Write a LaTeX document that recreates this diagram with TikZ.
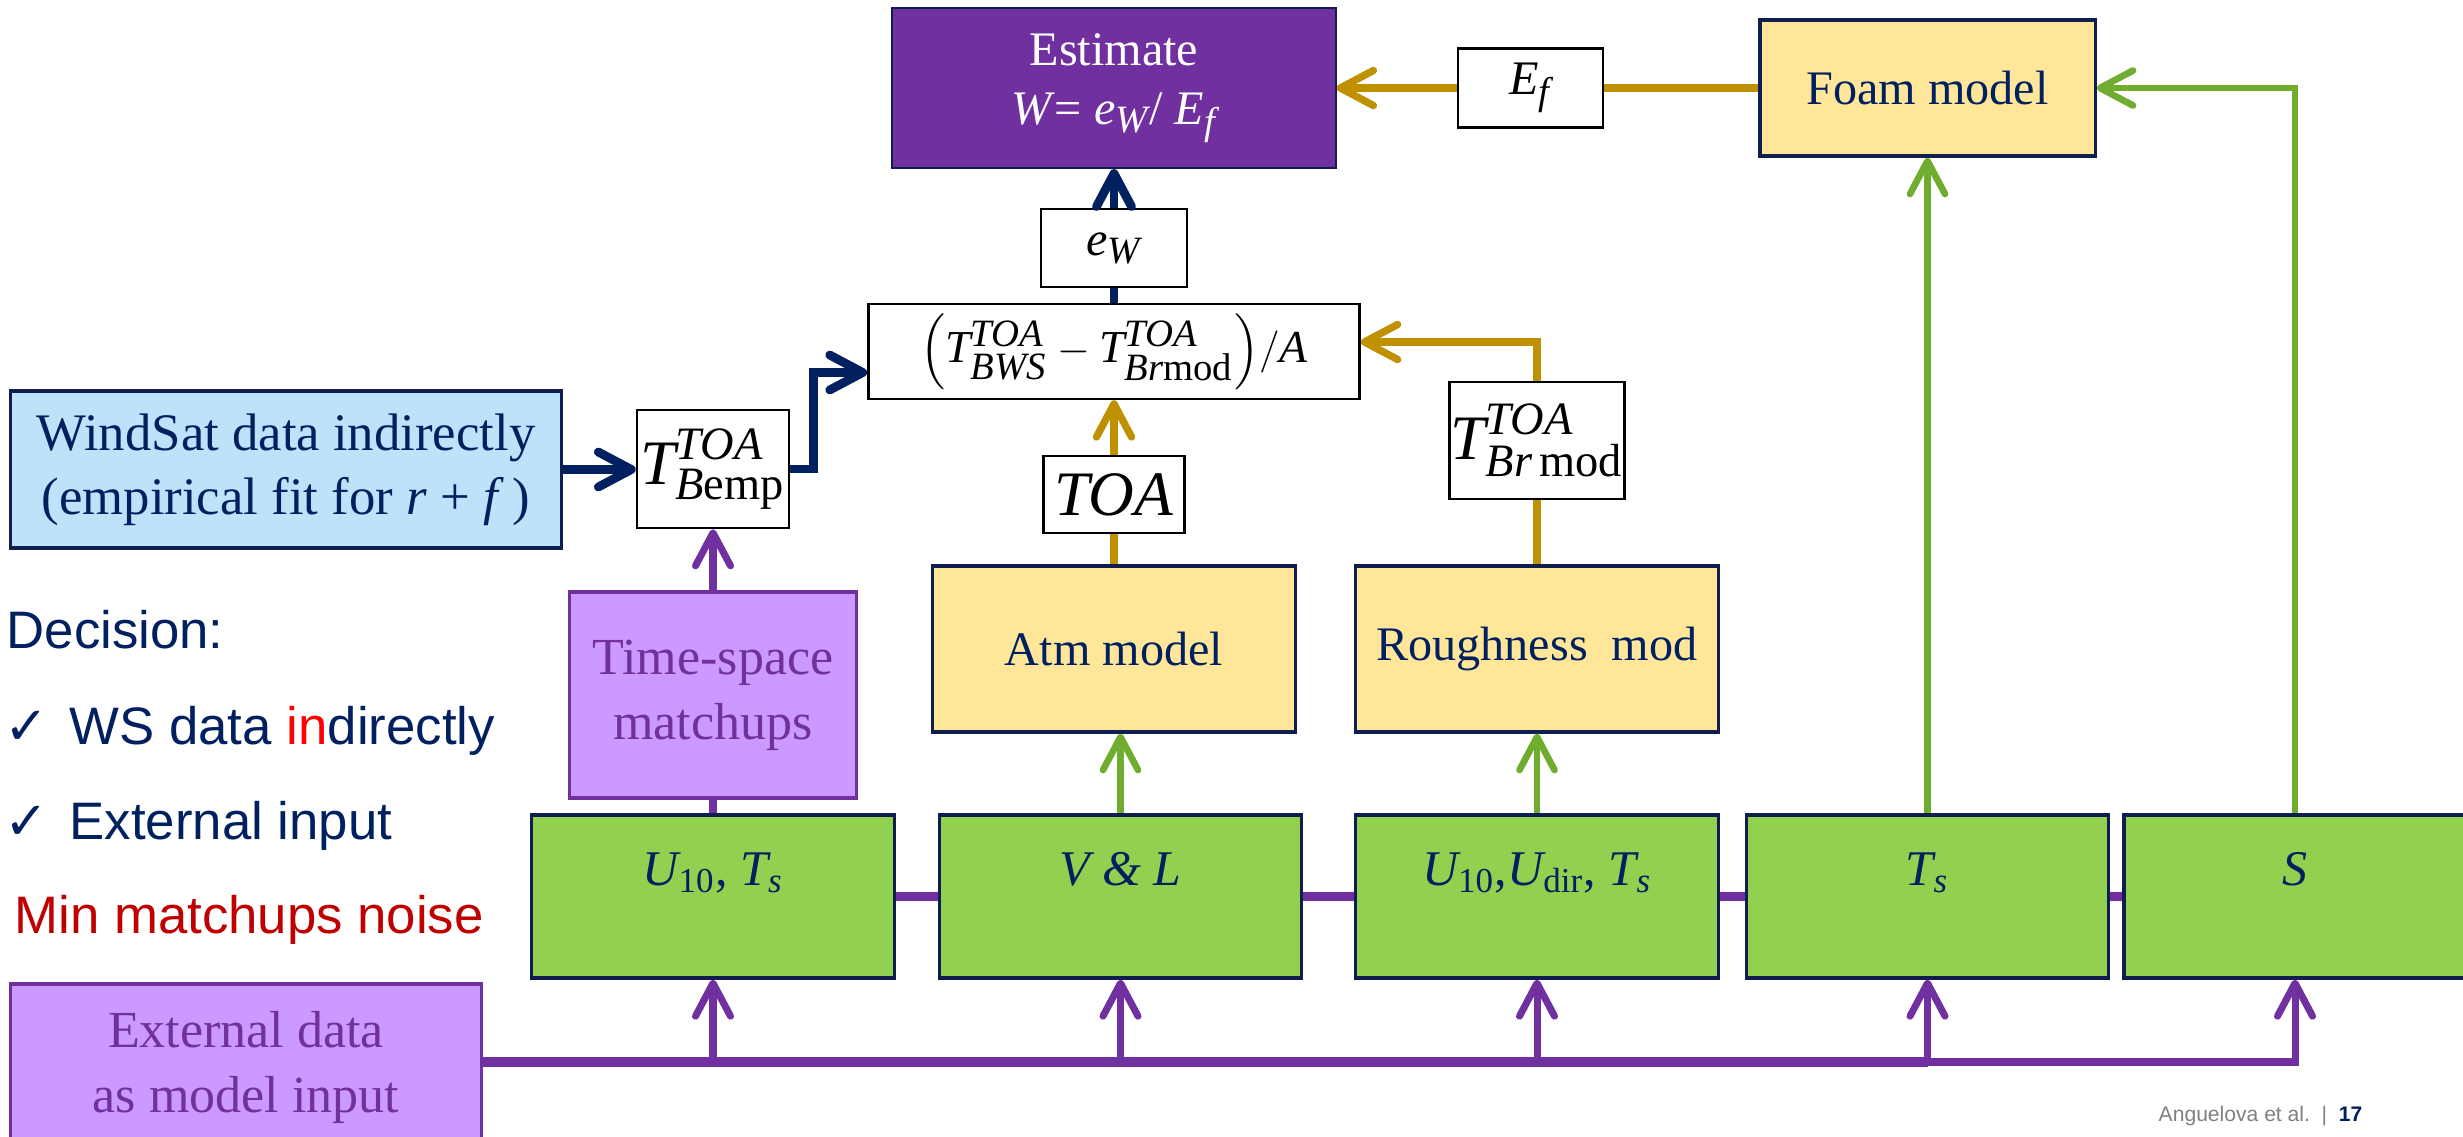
\documentclass[tikz,border=0pt]{standalone}
\usepackage{amsmath}
\usepackage{fontspec}
\setmainfont{Liberation Serif}
\newfontfamily\arialfont{Liberation Sans}
\newfontfamily\symfont{DejaVu Sans}
\usetikzlibrary{arrows.meta,calc}
% larger script sizes for the stacked TOA labels
\DeclareMathSizes{18}{18}{13.2}{10}
\DeclareMathSizes{13}{13}{11}{8.5}
\DeclareMathSizes{13.7}{13.7}{11}{8.5}

\definecolor{navy}{HTML}{002060}
\definecolor{estpurple}{HTML}{7030A0}
\definecolor{modelyellow}{HTML}{FFE699}
\definecolor{inputgreen}{HTML}{92D050}
\definecolor{lavender}{HTML}{CC99FF}
\definecolor{skyblue}{HTML}{BDE3FB}
\definecolor{goldline}{HTML}{BF9000}
\definecolor{greenline}{HTML}{70AD2F}
\definecolor{boxedge}{HTML}{0F1E4F}
\definecolor{darkred}{HTML}{C00000}
\definecolor{footgray}{HTML}{808080}

\tikzset{
  box/.style={rectangle, inner sep=0pt, align=center},
  ybox/.style={box, fill=modelyellow, draw=boxedge, line width=0.9pt, text=navy,
    font=\fontsize{13.7}{17}\selectfont, minimum width=3.62cm, minimum height=1.66cm},
  gbox/.style={box, fill=inputgreen, draw=boxedge, line width=0.9pt,
    minimum width=3.62cm, minimum height=1.63cm},
  wbox/.style={box, fill=white, draw=black, line width=0.7pt},
  lbox/.style={box, fill=lavender, draw=estpurple, line width=0.9pt, text=estpurple,
    font=\fontsize{14.8}{18.5}\selectfont},
  glabel/.style={text=navy, font=\fontsize{14.2}{17}\selectfont, anchor=base, inner sep=0pt},
  sidetext/.style={anchor=base west, inner sep=0pt, font=\arialfont\fontsize{15}{18}\selectfont, text=navy},
  checkmk/.style={sidetext, font=\symfont\fontsize{15}{18}\selectfont},
  arrowhd/.style={-{Straight Barb[length=3.3mm,width=3.5mm,round]}},
  navyln/.style={draw=navy, line width=2.5pt},
  goldln/.style={draw=goldline, line width=2.1pt},
  greenln/.style={draw=greenline, line width=1.9pt},
  purpln/.style={draw=estpurple, line width=2pt},
}

\begin{document}
\begin{tikzpicture}[x=0.01cm, y=-0.01cm]
\useasboundingbox (0,0) rectangle (2463,1136);
\clip (0,0) rectangle (2463,1136);
\fill[white] (0,0) rectangle (2463,1136);

% result and foam model
\node[box, fill=estpurple, draw=boxedge, line width=0.6pt, minimum width=4.43cm, minimum height=1.6cm,
  text=white, font=\fontsize{13.7}{17}\selectfont] (est) at (1114,88)
  {Estimate\\ \textit{W}= $\textit{e}_{\textit{W}}$/ $\textit{E}_{\textit{f}}$};
\node[wbox, minimum width=1.45cm, minimum height=0.79cm, font=\fontsize{13.7}{16}\selectfont] (Ef) at (1530.5,88)
  {$\textit{E}_{\textit{f}}$};
\node[ybox, minimum width=3.35cm, minimum height=1.36cm] (foam) at (1927.5,88) {Foam model};

% retrieval chain
\node[wbox, minimum width=1.46cm, minimum height=0.78cm, font=\fontsize{13.7}{16}\selectfont] (eW) at (1114,248)
  {$\textit{e}_{\textit{W}}$};
\node[wbox, minimum width=4.91cm, minimum height=0.95cm, font=\fontsize{13}{16}\selectfont] (form) at (1114,351.5)
  {$\left(\textit{T}^{\textit{TOA}}_{\textit{BWS}} - \textit{T}^{\textit{TOA}}_{\textit{Br}\textup{mod}}\right)\!/\textit{A}$};
\node[wbox, minimum width=1.41cm, minimum height=0.77cm, font=\fontsize{18}{21}\selectfont] (toa) at (1114,494.5)
  {\textit{TOA}};
\node[wbox, minimum width=1.75cm, minimum height=1.17cm, font=\fontsize{18}{21}\selectfont] (tbr) at (1537,440.5)
  {$\textit{T}^{\textit{TOA}}_{\textit{Br}\,\textup{mod}}$};
\node[ybox] (atm) at (1114,649) {Atm model};
\node[ybox] (rough) at (1537,649) {Roughness\ \ mod};

% WindSat branch
\node[box, fill=skyblue, draw=boxedge, line width=0.9pt, minimum width=5.5cm, minimum height=1.57cm,
  text=navy, font=\fontsize{15}{18.2}\selectfont] (wind) at (286,469.5)
  {WindSat data indirectly\\(empirical fit for \textit{r} + \textit{f}\,)};
\node[wbox, minimum width=1.52cm, minimum height=1.18cm, font=\fontsize{18}{21}\selectfont] (temp) at (713,469)
  {$\textit{T}^{\textit{TOA}}_{\textit{B}\textup{emp}}$};
\node[lbox, minimum width=2.87cm, minimum height=2.06cm] (tsm) at (713,695) {Time-space\\matchups};

% input parameters
\node[gbox] (g1) at (713,896.5) {};
\node[gbox] (g2) at (1120.5,896.5) {};
\node[gbox] (g3) at (1537,896.5) {};
\node[gbox] (g4) at (1927.5,896.5) {};
\node[gbox] (g5) at (2305,896.5) {};
\node[glabel] (g1t) at ($(g1.north)+(0,72)$) {$\textit{U}_{\textup{10}}$, $\textit{T}_{\textit{s}}$};
\node[glabel] (g2t) at ($(g2.north)+(0,72)$) {\textit{V \& L}};
\node[glabel] (g3t) at ($(g3.north)+(0,72)$) {$\textit{U}_{\textup{10}}$,$\textit{U}_{\textup{dir}}$, $\textit{T}_{\textit{s}}$};
\node[glabel] (g4t) at ($(g4.north)+(0,72)$) {$\textit{T}_{\textit{s}}$};
\node[glabel] (g5t) at ($(g5.north)+(-10,72)$) {\textit{S}};

\node[lbox, minimum width=4.7cm, minimum height=1.66cm] (ext) at (246,1067) {External data\\as model input};

% decision notes
\node[sidetext] (dec) at (6,648) {Decision:};
\node[checkmk] (chk1) at (4,744) {✓};
\node[sidetext] (ws) at (69,744) {WS data \textcolor{red}{in}directly};
\node[checkmk] (chk2) at (4,839) {✓};
\node[sidetext] (extin) at (69,839) {External input};
\node[sidetext, text=darkred] (noise) at (14,933) {Min matchups noise};

\node[anchor=base west, inner sep=0pt, font=\arialfont\fontsize{6}{7}\selectfont, text=footgray] (foot) at (2158,1121)
  {Anguelova et al.\ \ |\ \ \textcolor{navy}{\bfseries 17}};

% gold connectors
\draw[goldln] (foam.west) -- (Ef.east);
\draw[goldln, arrowhd] (Ef.west) -- (est.east);
\draw[goldln] (atm.north) -- (toa.south);
\draw[goldln, arrowhd] (toa.north) -- (form.south);
\draw[goldln] (rough.north) -- (tbr.south);
\coordinate (goldin) at ($(form.east)+(0,-9.5)$);
\draw[goldln, arrowhd] (tbr.north) |- (goldin);

% navy connectors
\draw[navyln] (form.north) -- (eW.south);
\draw[navyln, arrowhd] (eW.north) -- (est.south);
\draw[navyln, arrowhd] (wind.east) -- (wind.east -| temp.west);
\coordinate (navyup) at ($(form.west)+(-54,21)$);
\draw[navyln, arrowhd] (temp.east) -| (navyup) -- (navyup -| form.west);

% green connectors
\draw[greenln, arrowhd] (g2.north) -- (g2.north |- atm.south);
\draw[greenln, arrowhd] (g3.north) -- (rough.south);
\draw[greenln, arrowhd] (g4.north) -- (foam.south);
\coordinate (stop) at ($(g5.north)+(-10,0)$);
\draw[greenln, arrowhd] (stop) |- (foam.east);

% purple connectors
\draw[purpln] (g1.north) -- (tsm.south);
\draw[purpln, arrowhd] (tsm.north) -- (temp.south);
\draw[purpln, line width=2.3pt] (g1.east) -- (g2.west);
\draw[purpln, line width=2.3pt] (g2.east) -- (g3.west);
\draw[purpln, line width=2.3pt] (g3.east) -- (g4.west);
\draw[purpln, line width=2.3pt] (g4.east) -- (g5.west);
\coordinate (busL) at ($(ext.east)+(0,-5)$);
\draw[purpln, line width=2.85pt] (busL) -- (busL -| g4.south);
\foreach \g in {g1,g2,g3,g4} \draw[purpln, arrowhd] (busL -| \g.south) -- (\g.south);
\coordinate (sbot) at ($(g5.south)+(-10,0)$);
\draw[purpln, arrowhd] (busL -| g4.south) -| (sbot);
\end{tikzpicture}
\end{document}
